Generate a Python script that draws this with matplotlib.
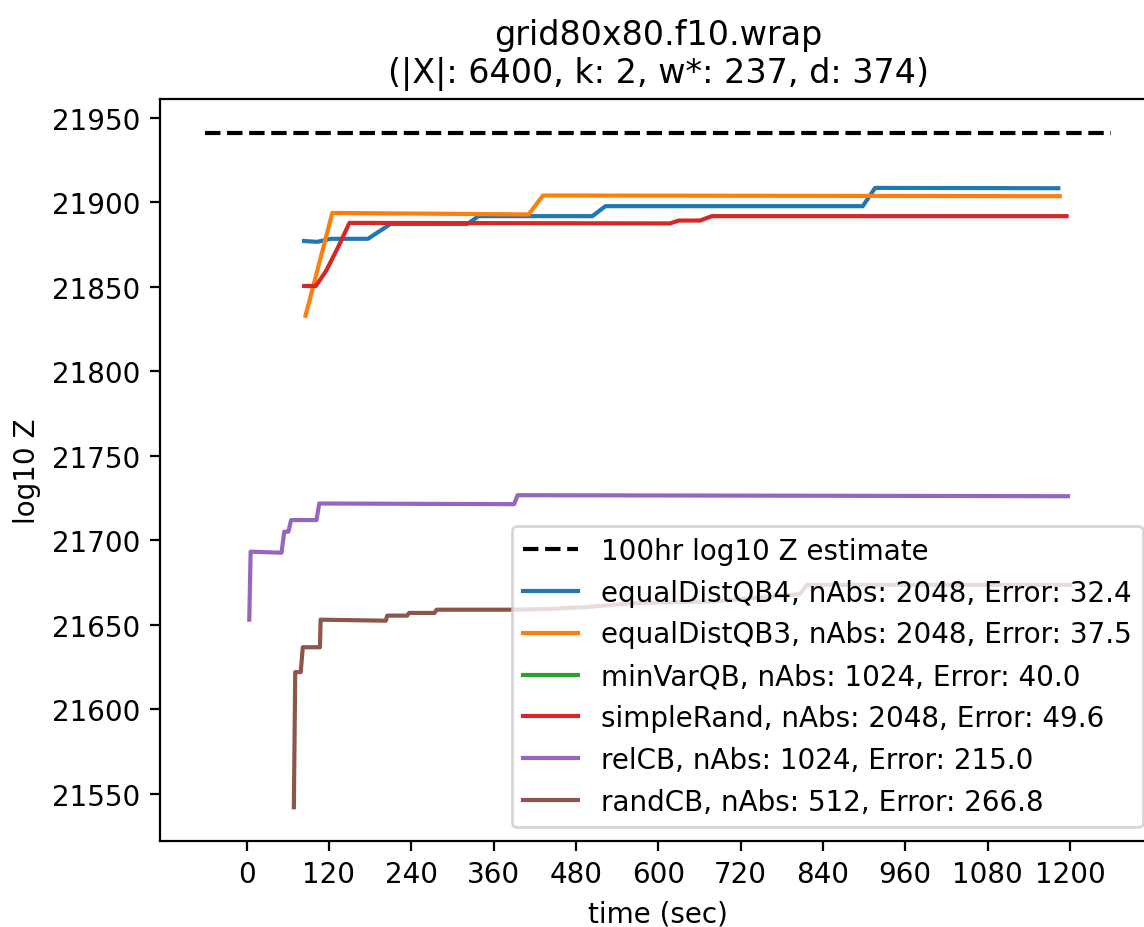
import numpy as np
import matplotlib
matplotlib.use('Agg')
import matplotlib.pyplot as plt

# reference estimate (100hr run)
est_value = 21941
est_t = [-60, 1260]

# time (sec) / log10 Z for each method
eqQB4_t = [84, 103, 123, 177, 210, 322, 338, 504, 523, 898, 916, 1183]
eqQB4_z = [21877, 21876.5, 21878.3, 21878.3, 21887.1, 21887.1, 21891.7, 21891.7, 21897.6, 21897.6, 21908.4, 21908.2]

eqQB3_t = [86, 125, 411, 432, 1185]
eqQB3_z = [21832.8, 21893.6, 21892.7, 21903.9, 21903.5]

minVar_t = []
minVar_z = []

simple_t = [84, 101, 116, 133, 150, 617, 630, 661, 678, 1195]
simple_z = [21850.4, 21850.4, 21859.3, 21873.0, 21887.7, 21887.4, 21889.1, 21889.1, 21891.7, 21891.7]

relCB_t = [4, 6, 51, 55, 61, 65, 102, 106, 390, 395, 1197]
relCB_z = [21653.1, 21693.3, 21692.7, 21705.1, 21705.1, 21712.0, 21712.0, 21721.8, 21721.4, 21726.7, 21726.1]

randCB_t = [69, 71, 79, 82, 107, 108, 203, 205, 234, 237, 274, 277, 387, 438, 496, 564, 680, 806, 817, 1200]
randCB_z = [21542.2, 21622.1, 21622.1, 21636.8, 21636.8, 21653.1, 21652.5, 21655.5, 21655.5, 21657.1,
            21657.1, 21659.0, 21659.0, 21659.4, 21660.6, 21662.9, 21663.9, 21668.2, 21673.7, 21673.7]

labels = ['equalDistQB4, nAbs: 2048, Error: 32.4',
          'equalDistQB3, nAbs: 2048, Error: 37.5',
          'minVarQB, nAbs: 1024, Error: 40.0',
          'simpleRand, nAbs: 2048, Error: 49.6',
          'relCB, nAbs: 1024, Error: 215.0',
          'randCB, nAbs: 512, Error: 266.8']

dpi = 200
fig = plt.figure(figsize=(1144 / dpi, 928 / dpi), dpi=dpi)
ax = fig.add_axes([0.1399, 0.0927, 0.871, 0.7995])

ax.plot(est_t, [est_value, est_value], 'k--', label='100hr log10 Z estimate')
series = [(eqQB4_t, eqQB4_z), (eqQB3_t, eqQB3_z), (minVar_t, minVar_z),
          (simple_t, simple_z), (relCB_t, relCB_z), (randCB_t, randCB_z)]
for i, ((t, z), lab) in enumerate(zip(series, labels)):
    ax.plot(t, z, color='C%d' % i, label=lab)

ax.set_xticks(np.arange(0, 1201, 120))
ax.set_xlabel('time (sec)')
ax.set_ylabel('log10 Z')
ax.set_title('grid80x80.f10.wrap\n(|X|: 6400, k: 2, w*: 237, d: 374)')
ax.legend(loc='lower right')

fig.savefig('out.png', dpi=dpi)
